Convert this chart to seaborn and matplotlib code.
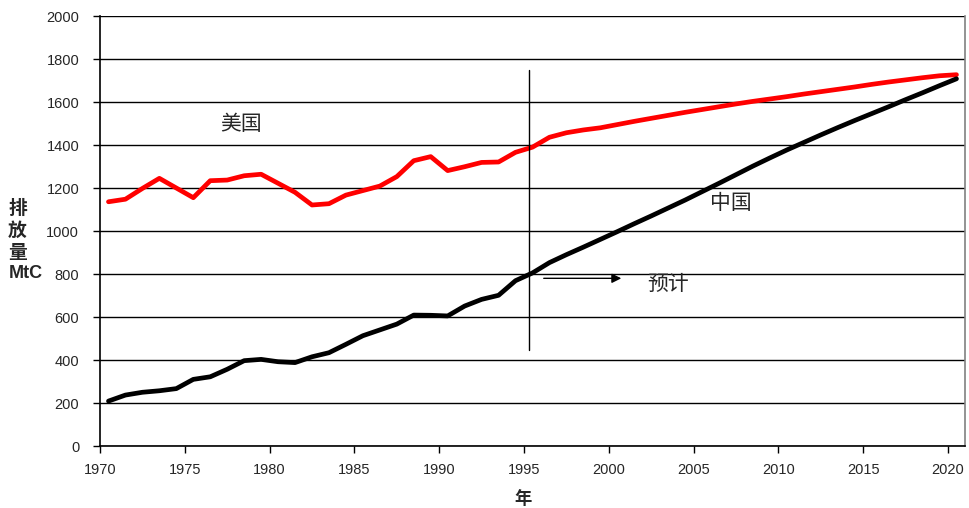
import numpy as np
import pandas as pd
import matplotlib
matplotlib.use("Agg")
import matplotlib.pyplot as plt
import seaborn as sns

years = list(range(1970, 2021))

usa = [1136, 1148, 1198, 1245, 1200, 1155, 1234, 1237, 1257, 1264,
       1222, 1180, 1121, 1127, 1167, 1188, 1209, 1253, 1327, 1346,
       1281, 1299, 1319, 1321, 1366, 1390, 1436, 1457, 1470, 1480,
       1495, 1510, 1524, 1538, 1552, 1565, 1578, 1591, 1603, 1614,
       1625, 1637, 1648, 1659, 1670, 1682, 1693, 1703, 1713, 1722,
       1727]

china = [209, 237, 250, 257, 267, 310, 322, 357, 397, 403,
         392, 388, 415, 434, 473, 513, 540, 567, 609, 608,
         605, 651, 682, 701, 769, 805, 853, 890, 925, 961,
         997, 1034, 1070, 1107, 1144, 1183, 1222, 1262, 1302, 1340,
         1377, 1412, 1447, 1481, 1514, 1546, 1578, 1611, 1643, 1676,
         1708]

xtick_labels = [str(y) for y in range(1970, 2021, 5)]
yticks = list(range(0, 2001, 200))

df = pd.DataFrame({
    "year": years * 2,
    "value": usa + china,
    "country": ["美国"] * len(years) + ["中国"] * len(years),
})
# category-style axis: each point sits in the middle of its year slot
df["x"] = df["year"] + 0.5

sns.set_style("white")
plt.rcParams["font.family"] = ["Liberation Sans", "Noto Sans CJK SC", "DejaVu Sans"]

fig = plt.figure(figsize=(9.7, 5.08), dpi=100)
ax = fig.add_axes([0.1031, 0.122, 0.8917, 0.8465])

sns.lineplot(data=df, x="x", y="value", hue="country",
             palette={"美国": "#ff0000", "中国": "#000000"},
             linewidth=3.4, legend=False, ax=ax)

ax.set_xlim(1970, 2021)
ax.set_ylim(0, 2000)
ax.set_yticks(yticks)
ax.set_xticks(list(range(1970, 2021, 5)))
ax.set_xticklabels(xtick_labels)
ax.yaxis.grid(True, color="#000000", linewidth=1.0)
ax.set_axisbelow(True)
ax.tick_params(axis="both", direction="out", length=5, width=1, color="#000000",
               labelsize=10.5, left=True, bottom=True)
ax.tick_params(axis="y", pad=10)
ax.tick_params(axis="x", pad=7)

for s in ["left", "bottom"]:
    ax.spines[s].set_color("#000000")
    ax.spines[s].set_linewidth(1.2)
ax.spines["top"].set_visible(False)
ax.spines["right"].set_color("#808080")
ax.spines["right"].set_linewidth(1.2)

ax.set_xlabel("")
ax.set_ylabel("")

# projection divider and arrow
ax.plot([1995.3, 1995.3], [447, 1749], color="#000000", linewidth=1.0)
ax.annotate("", xy=(2000.9, 780), xytext=(1996.0, 780),
            arrowprops=dict(arrowstyle="-|>", color="#000000", lw=1.0,
                            mutation_scale=14))

cjk = ["Noto Sans CJK SC", "DejaVu Sans"]
ax.text(2003.5, 752, "预计", fontsize=15, family=cjk, ha="center", va="center",
        fontweight="light")
ax.text(2007.2, 1130, "中国", fontsize=15, family=cjk, ha="center", va="center",
        fontweight="light")
ax.text(1978.3, 1500, "美国", fontsize=15, family=cjk, ha="center", va="center",
        fontweight="light")

# stacked y label, one glyph per line
for ch, ypx in [("排", 208), ("放", 230), ("量", 252)]:
    fig.text(8 / 970, 1 - ypx / 508, ch, fontsize=13.5, family=cjk,
             fontweight="bold", ha="left", va="center")
fig.text(9 / 970, 1 - 273 / 508, "MtC", fontsize=13, family=["Liberation Sans"],
         fontweight="bold", ha="left", va="center")
fig.text(523 / 970, 1 - 499 / 508, "年", fontsize=12.5, family=cjk,
         fontweight="bold", ha="center", va="center")

fig.savefig("out.png", dpi=100)
